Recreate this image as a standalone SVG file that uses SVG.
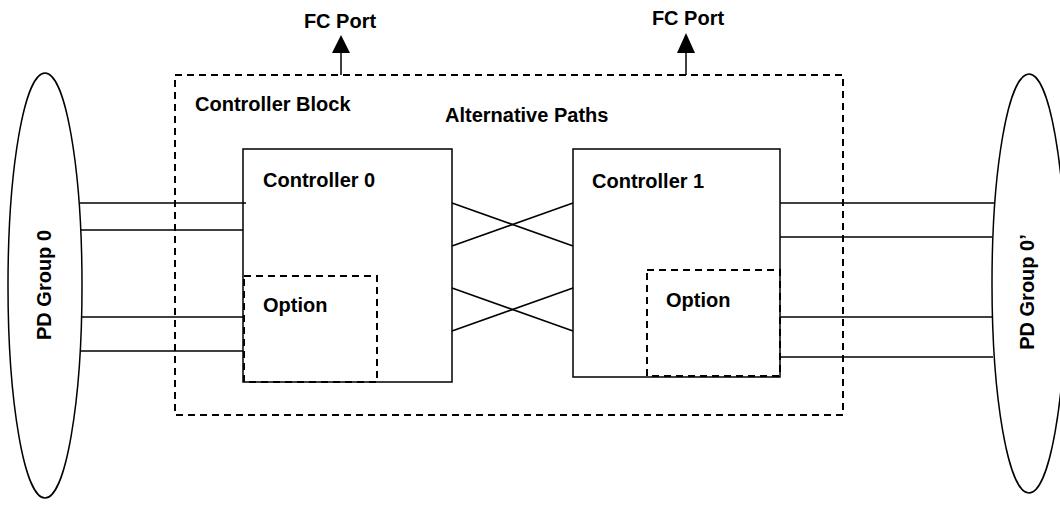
<svg xmlns="http://www.w3.org/2000/svg" width="1060" height="505" viewBox="0 0 1060 505">
  <style>
    .lbl { font-family: "Liberation Sans", Arial, sans-serif; font-weight: bold; font-size: 20px; fill: #000; }
    .solid { fill: #fff; stroke: #000; stroke-width: 1.5; }
    .dash { fill: none; stroke: #000; stroke-width: 2; stroke-dasharray: 7 5; }
    .wire { fill: none; stroke: #000; stroke-width: 1.5; }
    .head { fill: #000; stroke: none; }
  </style>

  <!-- Controller block enclosure -->
  <g id="controller-block">
    <rect class="dash" x="175" y="75" width="668" height="340"/>
    <text class="lbl" x="195" y="111">Controller Block</text>
  </g>

  <g id="alternative-paths-label">
    <text class="lbl" x="445" y="122">Alternative Paths</text>
  </g>

  <!-- Physical disk groups -->
  <g id="pd-group-0">
    <ellipse class="solid" cx="45" cy="285.5" rx="37" ry="212.5"/>
    <text class="lbl" text-anchor="middle" transform="translate(51,285) rotate(-90)">PD Group 0</text>
  </g>
  <g id="pd-group-0-prime">
    <ellipse class="solid" cx="1029" cy="283.5" rx="37" ry="209.5"/>
    <text class="lbl" text-anchor="middle" transform="translate(1034,292) rotate(-90)">PD Group 0’</text>
  </g>

  <!-- Controllers -->
  <g id="controller-0">
    <rect class="solid" x="243" y="149" width="209" height="233"/>
    <text class="lbl" x="263" y="187">Controller 0</text>
  </g>
  <g id="option-0">
    <rect class="dash" x="244" y="276" width="133" height="106"/>
    <text class="lbl" x="263" y="312">Option</text>
  </g>
  <g id="controller-1">
    <rect class="solid" x="573" y="149" width="207" height="228"/>
    <text class="lbl" x="592" y="188">Controller 1</text>
  </g>
  <g id="option-1">
    <rect class="dash" x="647" y="270" width="133" height="106"/>
    <text class="lbl" x="666" y="307">Option</text>
  </g>

  <!-- FC ports -->
  <g id="fc-port-0">
    <text class="lbl" text-anchor="middle" x="340" y="28">FC Port</text>
  </g>
  <g id="fc-port-1">
    <text class="lbl" text-anchor="middle" x="688" y="25">FC Port</text>
  </g>

  <!-- Connectors -->
  <g id="connectors">
    <!-- disk group 0 to controller 0 -->
    <line class="wire" x1="80" y1="203" x2="246" y2="203"/>
    <line class="wire" x1="81" y1="230" x2="243" y2="230"/>
    <line class="wire" x1="82" y1="317" x2="243" y2="317"/>
    <line class="wire" x1="81" y1="351" x2="243" y2="351"/>

    <!-- cross links between controllers -->
    <line class="wire" x1="452" y1="203" x2="573" y2="246"/>
    <line class="wire" x1="452" y1="246" x2="573" y2="203"/>
    <line class="wire" x1="452" y1="288" x2="573" y2="331"/>
    <line class="wire" x1="452" y1="331" x2="573" y2="288"/>

    <!-- controller 1 to disk group 0' -->
    <line class="wire" x1="780" y1="203" x2="994" y2="203"/>
    <line class="wire" x1="780" y1="237" x2="992" y2="237"/>
    <line class="wire" x1="780" y1="317" x2="992" y2="317"/>
    <line class="wire" x1="780" y1="357" x2="993" y2="357"/>

    <!-- FC port uplinks -->
    <line class="wire" x1="341" y1="75" x2="341" y2="52"/>
    <polygon class="head" points="341,35 332,53 350,53"/>
    <line class="wire" x1="686" y1="75" x2="686" y2="52"/>
    <polygon class="head" points="686,33 677,53 695,53"/>
  </g>
</svg>
